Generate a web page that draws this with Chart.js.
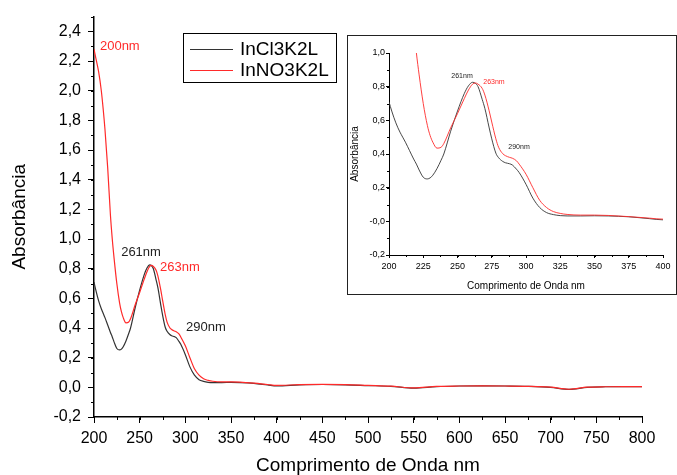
<!DOCTYPE html>
<html>
<head>
<meta charset="utf-8">
<title>Espectro UV-Vis</title>
<script src="https://cdn.jsdelivr.net/npm/chart.js@4.4.1/dist/chart.umd.min.js"></script>
<style>
  html, body { margin: 0; padding: 0; background: #fff; }
  #wrap { position: relative; width: 677px; height: 475px; overflow: hidden; }
  #mainChart { position: absolute; left: 0; top: 0; }
  #insetChart { position: absolute; left: 347px; top: 35px; }
</style>
</head>
<body>
<div id="wrap">
  <canvas id="mainChart" width="677" height="475"></canvas>
  <canvas id="insetChart" width="330" height="260"></canvas>
</div>
<script>
// comprimento de onda (nm)
const wavelengths = [
  200, 202, 205, 208, 210, 212, 215, 218, 220, 222,
  225, 228, 230, 232, 235, 238, 240, 245, 250, 255,
  258, 261, 263, 265, 268, 270, 273, 275, 278, 280,
  283, 285, 288, 290, 293, 295, 300, 305, 310, 315,
  320, 325, 330, 340, 350, 360, 375, 390, 400, 425,
  450, 475, 500, 525, 550, 575, 600, 625, 650, 675,
  700, 720, 740, 760, 780, 800
];

const inCl3K2L = [
  0.71, 0.655, 0.585, 0.53, 0.50, 0.47, 0.42, 0.37, 0.34, 0.305,
  0.262, 0.252, 0.258, 0.274, 0.313, 0.363, 0.40, 0.535, 0.655, 0.76,
  0.805, 0.826, 0.82, 0.80, 0.725, 0.67, 0.56, 0.49, 0.405, 0.378,
  0.356, 0.348, 0.342, 0.335, 0.31, 0.29, 0.22, 0.138, 0.082, 0.052,
  0.04, 0.034, 0.032, 0.032, 0.033, 0.032, 0.027, 0.016, 0.009, 0.016,
  0.019, 0.017, 0.012, 0.007, -0.005, 0.005, 0.009, 0.01, 0.009, 0.007,
  0.0, -0.014, 0.0, 0.004, 0.005, 0.004
];

const inNO3K2L = [
  2.28, 2.22, 2.13, 2.0, 1.88, 1.74, 1.48, 1.16, 1.0, 0.87,
  0.70, 0.57, 0.51, 0.47, 0.435, 0.44, 0.462, 0.555, 0.64, 0.73,
  0.78, 0.815, 0.822, 0.815, 0.79, 0.75, 0.66, 0.59, 0.49, 0.44,
  0.402, 0.39, 0.38, 0.375, 0.36, 0.34, 0.28, 0.2, 0.125, 0.082,
  0.058, 0.047, 0.041, 0.037, 0.037, 0.035, 0.028, 0.019, 0.013, 0.018,
  0.02, 0.018, 0.013, 0.008, -0.004, 0.006, 0.009, 0.01, 0.009, 0.007,
  0.001, -0.013, 0.001, 0.004, 0.005, 0.005
];

const seriesNames = ['InCl3K2L', 'InNO3K2L'];
const seriesColors = ['#333333', '#ff2a2a'];
const peakLabels = ['200nm', '261nm', '263nm', '290nm'];

const FONT = "'Liberation Sans', Arial, sans-serif";
Chart.defaults.font.family = FONT;
Chart.defaults.color = '#000';

const comma = v => v.toFixed(1).replace('.', ',');
const points = values => wavelengths.map((w, i) => ({ x: w, y: values[i] }));

function datasets(width) {
    return [inCl3K2L, inNO3K2L].map((vals, i) => ({
        label: seriesNames[i],
        data: points(vals),
        borderColor: seriesColors[i],
        borderWidth: width,
        pointRadius: 0,
        fill: false,
        cubicInterpolationMode: 'monotone',
        order: i === 0 ? 1 : 0
    }));
}

// small outward ticks between the labelled ones
const minorTicks = {
    id: 'minorTicks',
    afterDraw(chart, args, opts) {
        const { ctx, chartArea: area, scales: { x, y } } = chart;
        ctx.save();
        ctx.strokeStyle = '#000';
        ctx.lineWidth = 1;
        ctx.beginPath();
        for (let v = x.min; v <= x.max + 1e-6; v += opts.xStep) {
            const px = Math.round(x.getPixelForValue(v)) + 0.5;
            ctx.moveTo(px, area.bottom);
            ctx.lineTo(px, area.bottom + opts.len);
        }
        for (let v = y.min; v <= y.max + 1e-6; v += opts.yStep) {
            const py = Math.round(y.getPixelForValue(v)) + 0.5;
            ctx.moveTo(area.left, py);
            ctx.lineTo(area.left - opts.len, py);
        }
        ctx.stroke();
        ctx.restore();
    }
};

// peak annotations placed in data coordinates
const peakText = {
    id: 'peakText',
    afterDatasetsDraw(chart, args, opts) {
        const { ctx, scales: { x, y } } = chart;
        ctx.save();
        ctx.font = `${opts.size}px ${FONT}`;
        ctx.textBaseline = 'middle';
        opts.items.forEach(it => {
            ctx.fillStyle = it.color;
            ctx.textAlign = it.align;
            ctx.fillText(it.text, x.getPixelForValue(it.x), y.getPixelForValue(it.y));
        });
        ctx.restore();
    }
};

// boxed legend
const boxLegend = {
    id: 'boxLegend',
    afterDraw(chart, args, opts) {
        if (!opts.show) return;
        const { ctx } = chart;
        const b = opts.box;
        ctx.save();
        ctx.fillStyle = '#fff';
        ctx.fillRect(b.x, b.y, b.w, b.h);
        ctx.strokeStyle = '#000';
        ctx.lineWidth = 1;
        ctx.strokeRect(b.x + 0.5, b.y + 0.5, b.w, b.h);
        ctx.font = `${opts.size}px ${FONT}`;
        ctx.textBaseline = 'middle';
        ctx.textAlign = 'left';
        chart.data.datasets.forEach((ds, i) => {
            const rowY = b.y + opts.firstRow + i * opts.rowGap;
            ctx.strokeStyle = ds.borderColor;
            ctx.beginPath();
            ctx.moveTo(b.x + 7, rowY + 0.5);
            ctx.lineTo(b.x + 50, rowY + 0.5);
            ctx.stroke();
            ctx.fillStyle = '#000';
            ctx.fillText(ds.label, b.x + 57, rowY + 1);
        });
        ctx.restore();
    }
};

// white frame behind the small chart
const insetFrame = {
    id: 'insetFrame',
    beforeDraw(chart, args, opts) {
        if (!opts.show) return;
        const { ctx, width, height } = chart;
        ctx.save();
        ctx.fillStyle = '#fff';
        ctx.fillRect(0, 0, width, height);
        ctx.strokeStyle = '#222';
        ctx.lineWidth = 1;
        ctx.strokeRect(0.5, 0.5, width - 1, height - 1);
        ctx.restore();
    }
};

function axis(o) {
    return {
        type: 'linear',
        min: o.min,
        max: o.max,
        ticks: {
            stepSize: o.step,
            includeBounds: false,
            autoSkip: false,
            maxRotation: 0,
            padding: o.pad,
            font: { size: o.tickSize },
            color: '#000',
            callback: o.fmt
        },
        grid: { display: true, drawOnChartArea: false, drawTicks: true, tickLength: o.tick, color: '#000', lineWidth: 1 },
        border: { display: true, color: '#000', width: o.line },
        title: {
            display: true,
            text: o.title,
            color: '#000',
            font: { size: o.titleSize, lineHeight: 1 },
            padding: o.titlePad
        },
        afterFit: o.fit
    };
}

new Chart(document.getElementById('mainChart'), {
    type: 'line',
    data: { datasets: datasets(1.2) },
    options: {
        responsive: false,
        animation: false,
        events: [],
        layout: { padding: { left: 0, top: 12, right: 35, bottom: 0 } },
        scales: {
            x: axis({ min: 200, max: 800, step: 50, pad: 6, tickSize: 16, tick: 6, line: 1.5,
                fmt: v => String(v), title: 'Comprimento de Onda nm', titleSize: 19,
                titlePad: { top: 0, bottom: 0 }, fit: s => { s.height = 58; } }),
            y: axis({ min: -0.2, max: 2.5, step: 0.2, pad: 7, tickSize: 16, tick: 6, line: 1.5,
                fmt: comma, title: 'Absorbância', titleSize: 19,
                titlePad: { top: 10, bottom: 0 }, fit: s => { s.width = 94; } })
        },
        plugins: {
            legend: { display: false },
            tooltip: { enabled: false },
            minorTicks: { xStep: 25, yStep: 0.1, len: 3 },
            peakText: {
                size: 13,
                items: [
                    { text: peakLabels[0], x: 206.5, y: 2.30, color: seriesColors[1], align: 'left' },
                    { text: peakLabels[1], x: 251.5, y: 0.913, color: '#222', align: 'center' },
                    { text: peakLabels[2], x: 272.3, y: 0.807, color: seriesColors[1], align: 'left' },
                    { text: peakLabels[3], x: 300.7, y: 0.407, color: '#222', align: 'left' }
                ]
            },
            boxLegend: { show: true, size: 19, box: { x: 183, y: 33, w: 153, h: 49 }, firstRow: 16, rowGap: 21 },
            insetFrame: { show: false }
        }
    },
    plugins: [minorTicks, peakText, boxLegend, insetFrame]
});

new Chart(document.getElementById('insetChart'), {
    type: 'line',
    data: { datasets: datasets(0.9) },
    options: {
        responsive: false,
        animation: false,
        events: [],
        layout: { padding: { left: 0, top: 18, right: 14, bottom: 0 } },
        scales: {
            x: axis({ min: 200, max: 400, step: 25, pad: 3, tickSize: 9, tick: 3, line: 1,
                fmt: v => String(v), title: 'Comprimento de Onda nm', titleSize: 10,
                titlePad: { top: 0, bottom: 4 }, fit: s => { s.height = 40; } }),
            y: axis({ min: -0.2, max: 1.0, step: 0.2, pad: 1, tickSize: 9, tick: 3, line: 1,
                fmt: comma, title: 'Absorbância', titleSize: 10,
                titlePad: { top: 3, bottom: 0 }, fit: s => { s.width = 42; } })
        },
        plugins: {
            legend: { display: false },
            tooltip: { enabled: false },
            minorTicks: { xStep: 12.5, yStep: 0.1, len: 2 },
            peakText: {
                size: 7,
                items: [
                    { text: peakLabels[1], x: 253.3, y: 0.862, color: '#222', align: 'center' },
                    { text: peakLabels[2], x: 276.6, y: 0.826, color: seriesColors[1], align: 'center' },
                    { text: peakLabels[3], x: 294.9, y: 0.44, color: '#222', align: 'center' }
                ]
            },
            boxLegend: { show: false },
            insetFrame: { show: true }
        }
    },
    plugins: [insetFrame, minorTicks, peakText, boxLegend]
});
</script>
</body>
</html>
